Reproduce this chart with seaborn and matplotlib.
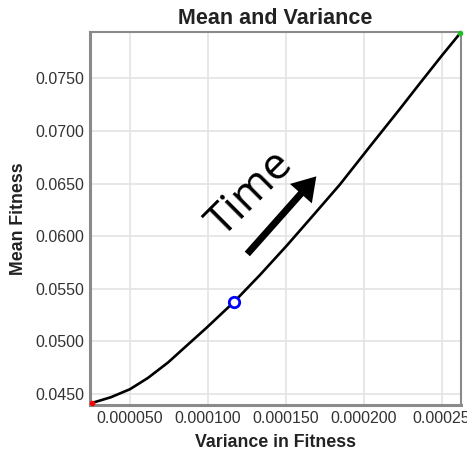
import matplotlib
matplotlib.use("Agg")
import matplotlib.pyplot as plt
import seaborn as sns
import pandas as pd

# Data
variance = [25.8e-6, 38.0e-6, 50.2e-6, 61.7e-6, 74.6e-6, 86.7e-6, 99.5e-6, 116.9e-6,
            133.5e-6, 150.8e-6, 168.1e-6, 184.8e-6, 204.0e-6, 223.3e-6, 236.1e-6,
            250.2e-6, 262.0e-6]
mean_fitness = [0.04414, 0.04469, 0.04545, 0.04652, 0.04799, 0.04961, 0.05132, 0.05375,
                0.05631, 0.05912, 0.06206, 0.06492, 0.06853, 0.07212, 0.07455,
                0.07719, 0.07933]
marker_variance = [116.9e-6]
marker_mean = [0.05375]

x_ticks = [50e-6, 100e-6, 150e-6, 200e-6, 250e-6]
x_tick_labels = ["0.000050", "0.000100", "0.000150", "0.000200", "0.00025"]
y_ticks = [0.045, 0.050, 0.055, 0.060, 0.065, 0.070, 0.075]
y_tick_labels = ["0.0450", "0.0500", "0.0550", "0.0600", "0.0650", "0.0700", "0.0750"]

df = pd.DataFrame({"Variance in Fitness": variance, "Mean Fitness": mean_fitness})

sns.set_style("whitegrid")
plt.rcParams["font.family"] = ["Liberation Sans", "DejaVu Sans"]

fig = plt.figure(figsize=(4.67, 4.54), dpi=100)
ax = fig.add_axes([90 / 467, 49 / 454, 371 / 467, 373 / 454])

sns.lineplot(data=df, x="Variance in Fitness", y="Mean Fitness", sort=False,
             color="black", linewidth=1.9, ax=ax, zorder=3)
ax.plot(variance[:1], mean_fitness[:1], "o", color="red", markersize=3, zorder=4, clip_on=False)
ax.plot(variance[-1:], mean_fitness[-1:], "o", color="#22bb22", markersize=3, zorder=4, clip_on=False)
ax.plot(marker_variance, marker_mean, "o", markerfacecolor="white", markeredgecolor="blue",
        markeredgewidth=2, markersize=7.5, zorder=5)

ax.set_xlim(24.6e-6, 262.4e-6)
ax.set_ylim(0.04395, 0.07942)
ax.set_xticks(x_ticks)
ax.set_xticklabels(x_tick_labels)
ax.set_yticks(y_ticks)
ax.set_yticklabels(y_tick_labels)
ax.tick_params(axis="both", labelsize=11.5, colors="#333333", length=0, pad=4)

ax.grid(True, color="#e3e3e3", linewidth=1.2)
for s in ax.spines.values():
    s.set_visible(True)
    s.set_color("#8a8a8a")
    s.set_linewidth(1.5)
ax.spines["left"].set_linewidth(2.2)
ax.spines["bottom"].set_linewidth(2.2)

ax.set_xlabel("Variance in Fitness", fontsize=12.8, fontweight="bold", color="#222222", labelpad=6)
ax.set_ylabel("Mean Fitness", fontsize=12.8, fontweight="bold", color="#222222", labelpad=6)
ax.set_title("Mean and Variance", fontsize=15.5, fontweight="bold", color="#222222", pad=6)

ax.annotate("", xy=(0.610, 0.613), xytext=(0.424, 0.405), xycoords="axes fraction",
            arrowprops=dict(arrowstyle="-|>,head_length=0.95,head_width=0.6", color="black",
                            linewidth=5, shrinkA=0, shrinkB=0, capstyle="butt",
                            joinstyle="miter"))
ax.text(0.434, 0.565, "Time", transform=ax.transAxes, rotation=45, fontsize=32,
        ha="center", va="center", color="black", family=["Open Sans", "DejaVu Sans"])

fig.savefig("out.png", dpi=100)
